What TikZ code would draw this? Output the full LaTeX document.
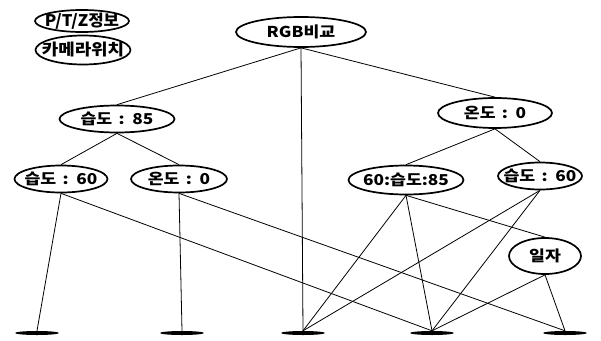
\documentclass[tikz,border=0pt]{standalone}
\usepackage{fontspec}
\newfontfamily\kr{Noto Sans CJK KR}[FakeStretch=1.15, WordSpace=1.6]
\newfontfamily\krw{Noto Sans CJK KR}[FakeStretch=1.05]
\newfontfamily\krx{Noto Sans CJK KR}[FakeStretch=1.12]
\usetikzlibrary{shapes.geometric}
\begin{document}
\begin{tikzpicture}[x=1pt,y=-1pt,
  oval/.style={ellipse, draw, line width=1.7pt, inner sep=0pt},
  lbl/.style={font=\kr\bfseries\fontsize{15}{15}\selectfont, inner sep=0pt},
  lblw/.style={font=\krw\bfseries\fontsize{16}{16}\selectfont, inner sep=0pt},
  lblx/.style={font=\krx\bfseries\fontsize{16}{16}\selectfont, inner sep=0pt},
  leaf/.style={ellipse, fill=black, minimum width=44pt, minimum height=4pt, inner sep=0pt},
  conn/.style={line width=0.8pt}]
\useasboundingbox (0,0) rectangle (601,340);
\node[oval, minimum width=94pt, minimum height=22pt, label={[lblw]center:P/T/Z정보}] (ptz) at (82,21) {};
\node[oval, minimum width=95pt, minimum height=29pt, label={[lblx]center:카메라위치}] (cam) at (83,50) {};
\node[oval, minimum width=130pt, minimum height=30pt, label={[lbl]center:RGB비교}] (rgb) at (301,32) {};
\node[oval, minimum width=115pt, minimum height=27pt, label={[lbl]center:습도 : 85}] (h85) at (117,119) {};
\node[oval, minimum width=93pt, minimum height=27pt, label={[lbl]center:습도 : 60}] (h60L) at (61,179) {};
\node[oval, minimum width=96pt, minimum height=27pt, label={[lbl]center:온도 : 0}] (t0L) at (179,179) {};
\node[oval, minimum width=114pt, minimum height=30pt, label={[lbl]center:온도 : 0}] (t0R) at (495,113) {};
\node[oval, minimum width=115pt, minimum height=29pt, label={[lbl]center:60:습도:85}] (mid) at (406,180) {};
\node[oval, minimum width=84pt, minimum height=27pt, label={[lbl]center:습도 : 60}] (h60R) at (540,176) {};
\node[oval, minimum width=72pt, minimum height=36pt, label={[lbl]center:일자}] (day) at (545,256) {};
\node[leaf] (l1) at (37,333) {};
\node[leaf] (l2) at (182,333) {};
\node[leaf] (l3) at (303,333) {};
\node[leaf] (l4) at (432,333) {};
\node[leaf] (l5) at (565,333) {};
\draw[conn] (rgb.south) -- (h85.north);
\draw[conn] (rgb.south) -- (t0R.north);
\draw[conn] (rgb.south) -- (l3.north);
\draw[conn] (h85.south) -- (h60L.north);
\draw[conn] (h85.south) -- (t0L.north);
\draw[conn] (h60L.south) -- (l1.north);
\draw[conn] (h60L.south) -- (l4.north);
\draw[conn] (t0L.south) -- (l2.north);
\draw[conn] (t0L.south) -- (l5.north);
\draw[conn] (t0R.south) -- (mid.north);
\draw[conn] (t0R.south) -- (h60R.north);
\draw[conn] (mid.south) -- (l3.north);
\draw[conn] (mid.south) -- (l4.north);
\draw[conn] (mid.south) -- (day.north);
\draw[conn] (h60R.south) -- (l3.north);
\draw[conn] (h60R.south) -- (l4.north);
\draw[conn] (day.south) -- (l4.north);
\draw[conn] (day.south) -- (l5.north);
\end{tikzpicture}
\end{document}
